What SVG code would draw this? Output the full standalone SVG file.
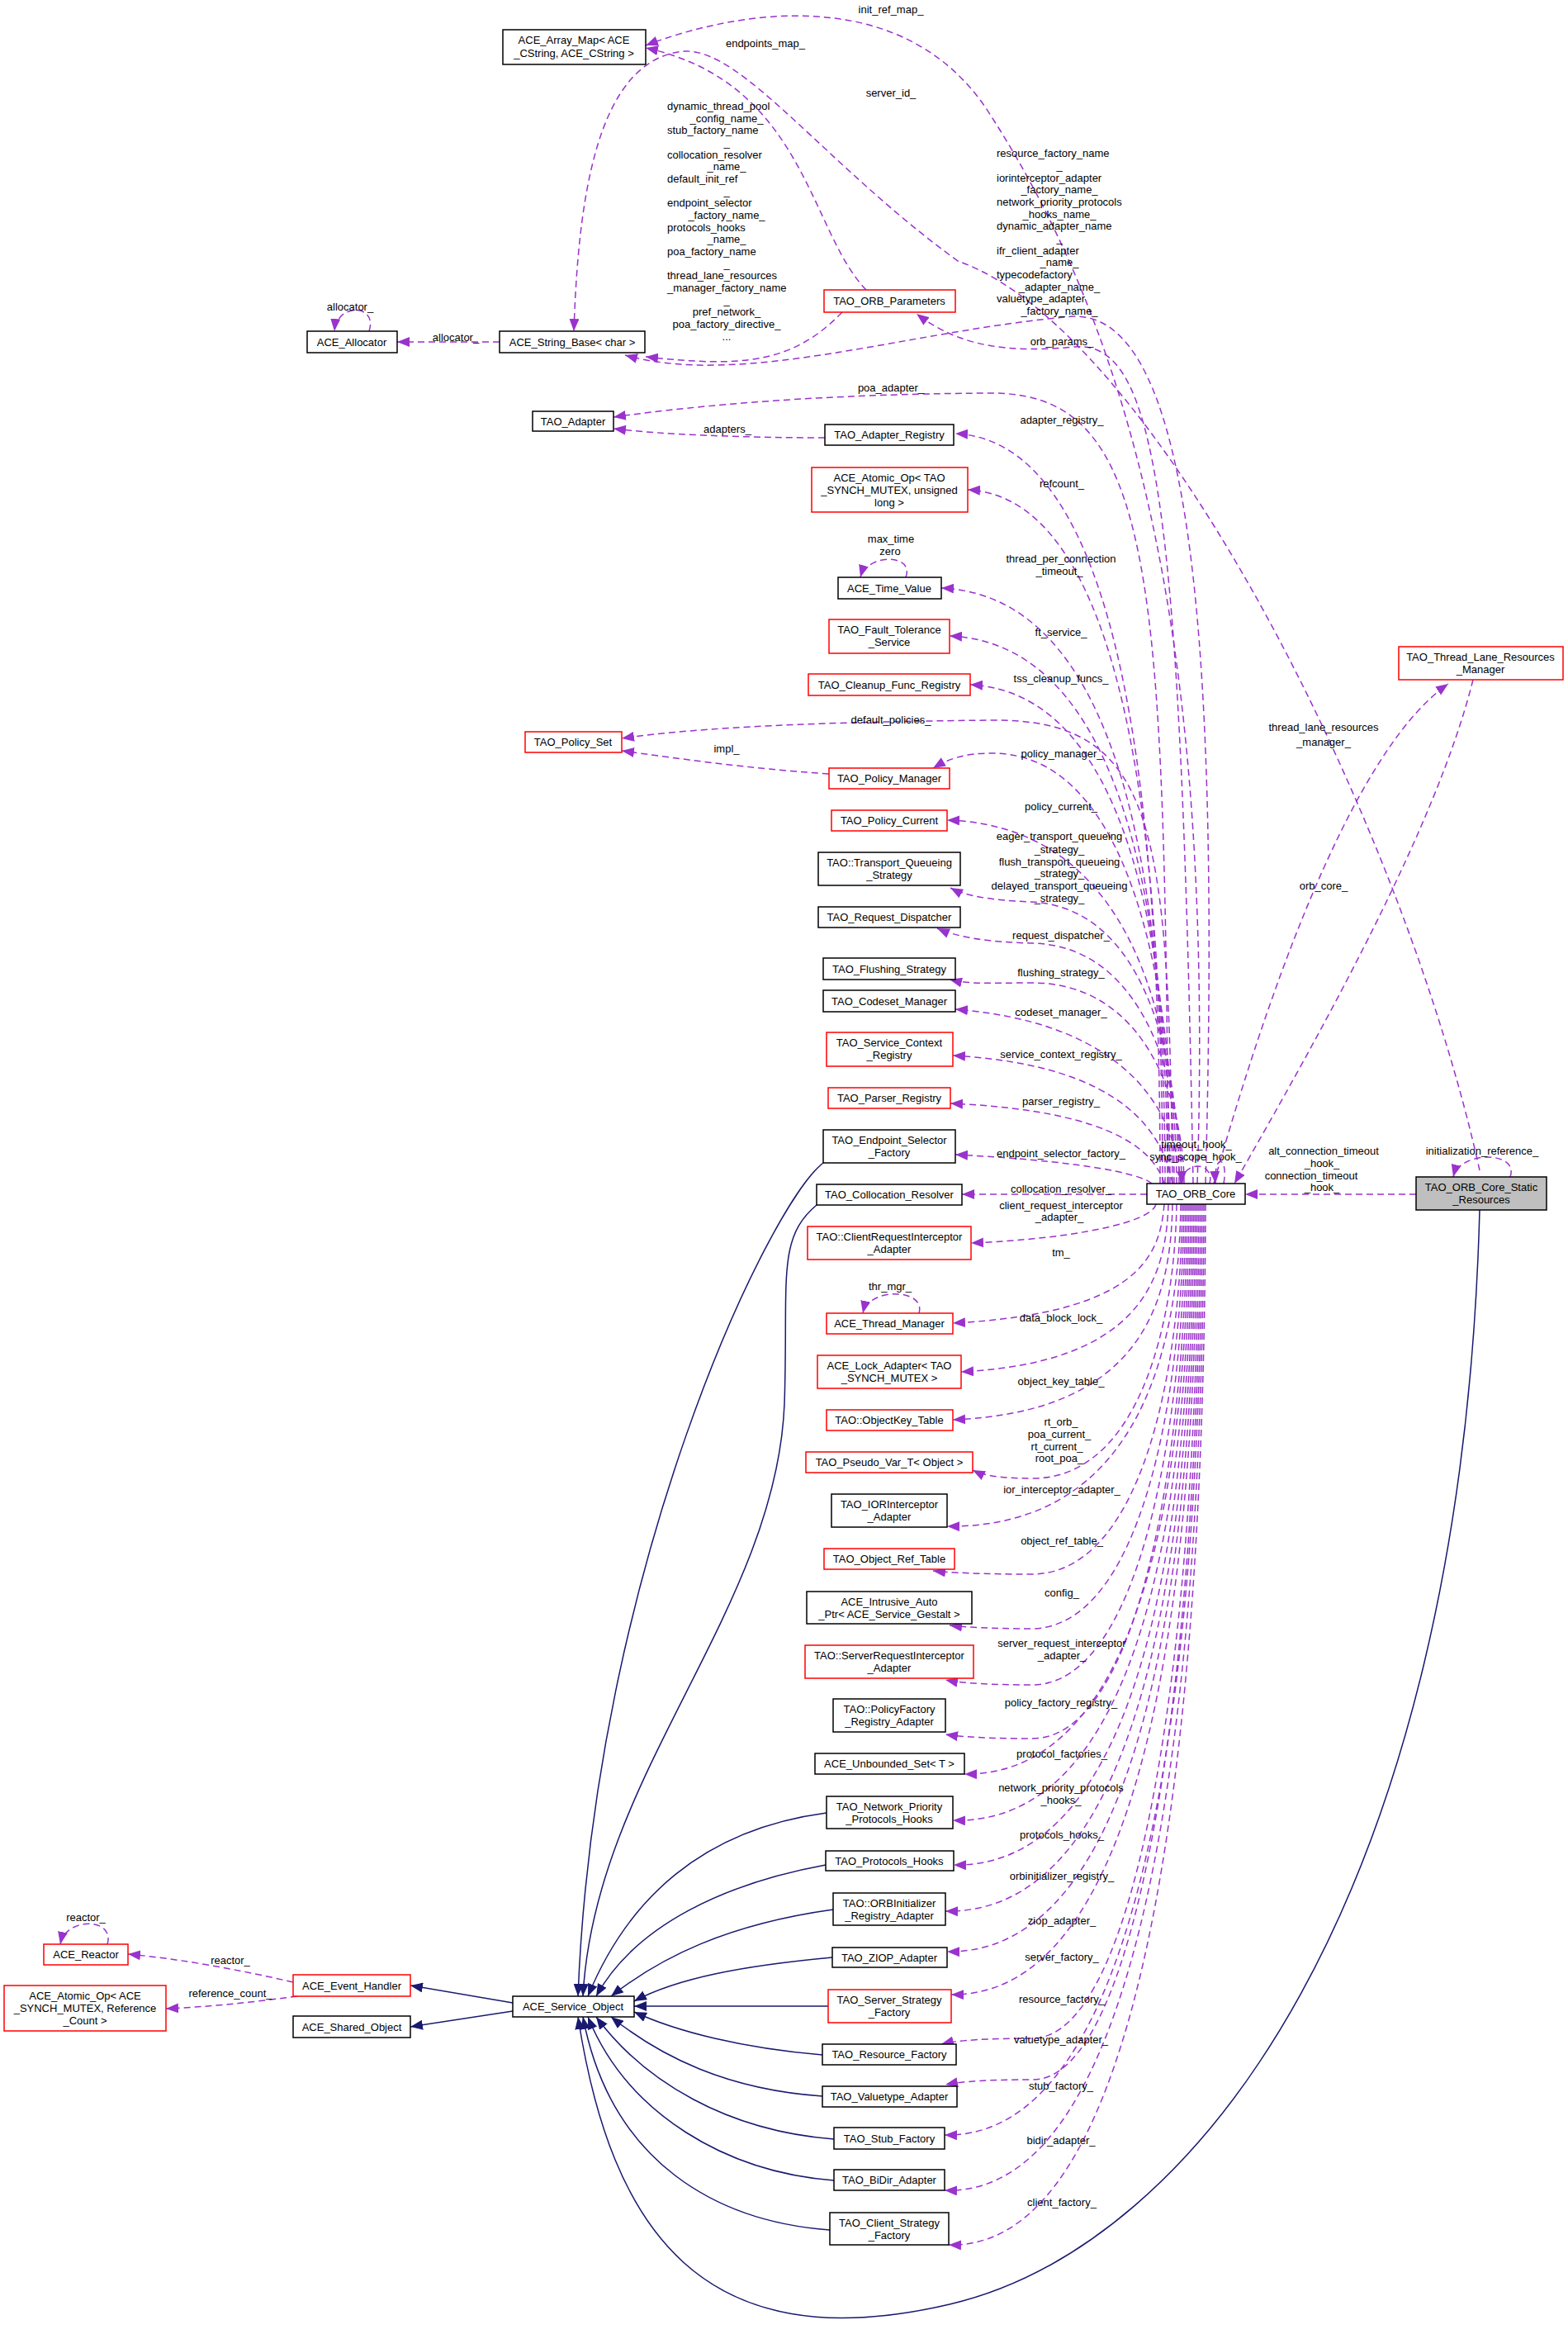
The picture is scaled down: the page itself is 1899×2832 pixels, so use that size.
<svg xmlns="http://www.w3.org/2000/svg" width="1899" height="2832" viewBox="0 0 1899 2832">
<style>
text{font-family:"Liberation Sans",Arial,sans-serif;font-size:13px;fill:#000;text-anchor:middle}
.l{text-anchor:start}
.n rect{fill:#fff;stroke:#000;stroke-width:1.5}
.n.r rect{stroke:#f00}
.n.g rect{fill:#bfbfbf}
.d{fill:none;stroke:#9a32cd;stroke-width:1.5;stroke-dasharray:8,5;marker-end:url(#pa)}
.i{fill:none;stroke:#191970;stroke-width:1.5;marker-end:url(#na)}
</style>
<defs>
<marker id="pa" markerUnits="userSpaceOnUse" markerWidth="16" markerHeight="12" refX="15" refY="6" orient="auto"><path d="M0,0 L15,6 L0,12 z" fill="#9a32cd"/></marker>
<marker id="na" markerUnits="userSpaceOnUse" markerWidth="16" markerHeight="12" refX="15" refY="6" orient="auto"><path d="M0,0 L15,6 L0,12 z" fill="#191970"/></marker>
</defs>
<rect width="1899" height="2832" fill="#fff"/>
<g id="connectors">
<path class="d" d="M1450,1433 C1470,800 1380,420 1200,140 C1100,-20 900,10 782,55"/>
<path class="d" d="M1049,351 C980,280 975,100 782,58"/>
<path class="d" d="M1792,1417 C1700,1000 1400,400 1160,316 C1000,200 900,60 830,62 C720,70 700,250 695,401"/>
<path class="d" d="M1020,378 C960,440 900,445 782,432"/>
<path class="d" d="M1460,1433 C1480,700 1430,380 1300,383 C1100,400 900,470 757,430"/>
<path class="d" d="M1445,1433 C1430,600 1400,410 1300,420 C1200,430 1150,410 1110,380"/>
<path class="d" d="M605,414 L481,414"/>
<path class="d" d="M447,401 C458,368 408,366 405,401"/>
<path class="d" d="M1415,1433 C1410,700 1400,475 1200,476 C1000,477 850,490 743,505"/>
<path class="d" d="M999,530 C900,530 800,526 743,519"/>
<path class="d" d="M1420,1433 C1415,1000 1400,870 1200,872 C1000,874 850,880 753,894"/>
<path class="d" d="M1004,937 C900,930 820,918 753,909"/>
<path class="d" d="M1097,699 C1108,670 1050,670 1042,699"/>
<path class="d" d="M1113,1590 C1122,1560 1052,1558 1045,1590"/>
<path class="d" d="M1405,1433 C1405,1070 1380,535 1157,525"/>
<path class="d" d="M1408,1433 C1408,1097 1380,603 1172,593"/>
<path class="d" d="M1411,1433 C1411,1145 1380,722 1140,712"/>
<path class="d" d="M1414,1433 C1414,1168 1380,780 1150,770"/>
<path class="d" d="M1417,1433 C1417,1191 1380,839 1175,829"/>
<path class="d" d="M1422,1433 C1422,1232 1380,910 1200,912 C1170,912 1150,918 1130,930"/>
<path class="d" d="M1425,1433 C1425,1257 1380,1000 1147,993"/>
<path class="d" d="M1428,1433 C1428,1290 1390,1100 1250,1092 C1200,1090 1170,1085 1151,1075"/>
<path class="d" d="M1431,1433 C1431,1320 1390,1145 1250,1142 C1200,1141 1160,1135 1135,1124"/>
<path class="d" d="M1434,1433 C1434,1340 1390,1190 1250,1190 C1200,1190 1175,1192 1150,1186"/>
<path class="d" d="M1430,1433 C1425,1360 1380,1240 1157,1222"/>
<path class="d" d="M1420,1433 C1410,1380 1370,1290 1154,1278"/>
<path class="d" d="M1410,1433 C1400,1400 1360,1345 1151,1336"/>
<path class="d" d="M1395,1433 C1380,1420 1300,1405 1157,1398"/>
<path class="d" d="M1389,1446 L1165,1446"/>
<path class="d" d="M1400,1458 C1395,1480 1300,1500 1176,1505"/>
<path class="d" d="M1410,1458 C1405,1520 1380,1590 1154,1602"/>
<path class="d" d="M1415,1458 C1412,1550 1380,1650 1164,1661"/>
<path class="d" d="M1420,1458 C1418,1580 1380,1710 1154,1719"/>
<path class="d" d="M1425,1458 C1423,1600 1380,1790 1250,1790 C1210,1790 1190,1786 1178,1780"/>
<path class="d" d="M1430,1458 C1428,1630 1380,1850 1147,1848"/>
<path class="d" d="M1432,1458 C1430,1670 1380,1905 1250,1906 C1190,1906 1150,1904 1130,1902"/>
<path class="d" d="M1434,1458 C1432,1700 1380,1970 1250,1972 C1200,1972 1170,1970 1150,1968"/>
<path class="d" d="M1436,1458 C1434,1730 1380,2040 1250,2040 C1200,2040 1165,2038 1145,2034"/>
<path class="d" d="M1438,1458 C1436,1760 1380,2105 1250,2105 C1200,2105 1165,2103 1145,2100"/>
<path class="d" d="M1440,1458 C1438,1800 1380,2150 1168,2148"/>
<path class="d" d="M1442,1458 C1440,1830 1380,2210 1154,2204"/>
<path class="d" d="M1444,1458 C1442,1860 1380,2262 1155,2258"/>
<path class="d" d="M1446,1458 C1444,1890 1380,2318 1145,2314"/>
<path class="d" d="M1448,1458 C1446,1920 1380,2366 1147,2363"/>
<path class="d" d="M1450,1458 C1448,1950 1380,2417 1152,2415"/>
<path class="d" d="M1452,1458 C1450,1990 1380,2468 1250,2468 C1200,2468 1160,2470 1140,2475"/>
<path class="d" d="M1454,1458 C1452,2020 1380,2520 1250,2518 C1200,2518 1165,2520 1145,2524"/>
<path class="d" d="M1456,1458 C1454,2060 1380,2590 1144,2585"/>
<path class="d" d="M1458,1458 C1456,2100 1380,2660 1144,2652"/>
<path class="d" d="M1460,1458 C1458,2150 1380,2725 1149,2718"/>
<path class="d" d="M1470,1433 C1550,1150 1650,900 1754,828"/>
<path class="d" d="M1784,823 C1740,1000 1600,1250 1495,1433"/>
<path class="d" d="M1715,1446 L1508,1446"/>
<path class="d" d="M1829,1425 C1840,1393 1768,1393 1760,1425"/>
<path class="d" d="M1465,1433 C1472,1405 1430,1405 1432,1433"/>
<path class="d" d="M1482,1433 C1488,1400 1470,1395 1472,1433"/>
<path class="d" d="M130,2354 C140,2322 80,2320 73,2354"/>
<path class="d" d="M355,2400 C290,2385 220,2372 155,2366"/>
<path class="d" d="M360,2417 C300,2425 250,2430 201,2432"/>
<path class="i" d="M621,2425 L497,2404"/>
<path class="i" d="M621,2435 L497,2454"/>
<path class="i" d="M997,1408 C930,1460 720,1900 700,2417"/>
<path class="i" d="M989,1459 C940,1500 955,1550 950,1700 C940,1950 720,2150 706,2417"/>
<path class="i" d="M1001,2195 C850,2215 760,2300 712,2417"/>
<path class="i" d="M1000,2258 C880,2280 770,2330 722,2417"/>
<path class="i" d="M1009,2312 C880,2330 800,2370 740,2417"/>
<path class="i" d="M1008,2370 C900,2380 820,2395 768,2423"/>
<path class="i" d="M1003,2429 L768,2429"/>
<path class="i" d="M996,2488 C900,2480 820,2460 768,2436"/>
<path class="i" d="M996,2538 C880,2530 800,2490 740,2442"/>
<path class="i" d="M1010,2590 C880,2580 780,2520 722,2442"/>
<path class="i" d="M1010,2640 C880,2630 760,2560 712,2442"/>
<path class="i" d="M1005,2700 C870,2690 740,2620 706,2442"/>
<path class="i" d="M1792,1465 C1770,2300 1450,2720 1150,2790 C850,2860 740,2700 700,2442"/>
</g>
<g id="labels">
<text x="1079" y="16">init_ref_map_</text>
<text x="927" y="57">endpoints_map_</text>
<text x="1079" y="117">server_id_</text>
<text class="l" x="808" y="133">dynamic_thread_pool</text>
<text x="880" y="148">_config_name_</text>
<text class="l" x="808" y="162">stub_factory_name</text>
<text x="880" y="177">_</text>
<text class="l" x="808" y="192">collocation_resolver</text>
<text x="880" y="206">_name_</text>
<text class="l" x="808" y="221">default_init_ref</text>
<text x="880" y="236">_</text>
<text class="l" x="808" y="250">endpoint_selector</text>
<text x="880" y="265">_factory_name_</text>
<text class="l" x="808" y="280">protocols_hooks</text>
<text x="880" y="294">_name_</text>
<text class="l" x="808" y="309">poa_factory_name</text>
<text x="880" y="324">_</text>
<text class="l" x="808" y="338">thread_lane_resources</text>
<text class="l" x="808" y="353">_manager_factory_name</text>
<text x="880" y="368">_</text>
<text x="880" y="382">pref_network_</text>
<text x="880" y="397">poa_factory_directive_</text>
<text x="880" y="412">...</text>
<text class="l" x="1207" y="190">resource_factory_name</text>
<text x="1283" y="205">_</text>
<text class="l" x="1207" y="220">iorinterceptor_adapter</text>
<text x="1283" y="234">_factory_name_</text>
<text class="l" x="1207" y="249">network_priority_protocols</text>
<text x="1283" y="264">_hooks_name_</text>
<text class="l" x="1207" y="278">dynamic_adapter_name</text>
<text x="1283" y="293">_</text>
<text class="l" x="1207" y="308">ifr_client_adapter</text>
<text x="1283" y="322">_name_</text>
<text class="l" x="1207" y="337">typecodefactory</text>
<text x="1283" y="352">_adapter_name_</text>
<text class="l" x="1207" y="366">valuetype_adapter</text>
<text x="1283" y="381">_factory_name_</text>
<text x="1286" y="418">orb_params_</text>
<text x="424" y="376">allocator_</text>
<text x="552" y="413">allocator_</text>
<text x="1079" y="474">poa_adapter_</text>
<text x="881" y="524">adapters_</text>
<text x="1286" y="513">adapter_registry_</text>
<text x="1286" y="590">refcount_</text>
<text x="1079" y="657">max_time</text>
<text x="1078" y="672">zero</text>
<text x="1285" y="681">thread_per_connection</text>
<text x="1283" y="696">_timeout_</text>
<text x="1285" y="770">ft_service_</text>
<text x="1285" y="826">tss_cleanup_funcs_</text>
<text x="1079" y="876">default_policies_</text>
<text x="880" y="911">impl_</text>
<text x="1286" y="917">policy_manager_</text>
<text x="1285" y="981">policy_current_</text>
<text x="1283" y="1017">eager_transport_queueing</text>
<text x="1283" y="1033">_strategy_</text>
<text x="1283" y="1048">flush_transport_queueing</text>
<text x="1283" y="1062">_strategy_</text>
<text x="1283" y="1077">delayed_transport_queueing</text>
<text x="1283" y="1092">_strategy_</text>
<text x="1285" y="1137">request_dispatcher_</text>
<text x="1285" y="1182">flushing_strategy_</text>
<text x="1285" y="1230">codeset_manager_</text>
<text x="1285" y="1281">service_context_registry_</text>
<text x="1285" y="1338">parser_registry_</text>
<text x="1285" y="1401">endpoint_selector_factory_</text>
<text x="1285" y="1444">collocation_resolver_</text>
<text x="1285" y="1464">client_request_interceptor</text>
<text x="1283" y="1478">_adapter_</text>
<text x="1285" y="1521">tm_</text>
<text x="1078" y="1562">thr_mgr_</text>
<text x="1285" y="1600">data_block_lock_</text>
<text x="1285" y="1677">object_key_table_</text>
<text x="1285" y="1726">rt_orb_</text>
<text x="1283" y="1741">poa_current_</text>
<text x="1280" y="1756">rt_current_</text>
<text x="1283" y="1770">root_poa_</text>
<text x="1449" y="1390">timeout_hook_</text>
<text x="1448" y="1405">sync_scope_hook_</text>
<text x="1603" y="1398">alt_connection_timeout</text>
<text x="1601" y="1413">_hook_</text>
<text x="1588" y="1428">connection_timeout</text>
<text x="1601" y="1442">_hook_</text>
<text x="1795" y="1398">initialization_reference_</text>
<text x="1603" y="885">thread_lane_resources</text>
<text x="1603" y="903">_manager_</text>
<text x="1603" y="1077">orb_core_</text>
<text x="1286" y="1808">ior_interceptor_adapter_</text>
<text x="1286" y="1870">object_ref_table_</text>
<text x="1286" y="1933">config_</text>
<text x="1286" y="1994">server_request_interceptor</text>
<text x="1286" y="2009">_adapter_</text>
<text x="1285" y="2066">policy_factory_registry_</text>
<text x="1286" y="2128">protocol_factories_</text>
<text x="1285" y="2169">network_priority_protocols</text>
<text x="1285" y="2184">_hooks_</text>
<text x="1286" y="2226">protocols_hooks_</text>
<text x="1286" y="2276">orbinitializer_registry_</text>
<text x="1286" y="2330">ziop_adapter_</text>
<text x="1286" y="2374">server_factory_</text>
<text x="1286" y="2425">resource_factory_</text>
<text x="1285" y="2474">valuetype_adapter_</text>
<text x="1285" y="2530">stub_factory_</text>
<text x="1285" y="2596">bidir_adapter_</text>
<text x="1286" y="2671">client_factory_</text>
<text x="104" y="2326">reactor_</text>
<text x="279" y="2378">reactor_</text>
<text x="279" y="2418">reference_count_</text>
</g>
<g id="n1" class="n"><rect x="609" y="36" width="173" height="42"/><text x="695" y="53">ACE_Array_Map&lt; ACE</text><text x="695" y="69">_CString, ACE_CString &gt;</text></g>
<g id="n2" class="n"><rect x="372" y="401" width="109" height="26"/><text x="426" y="419">ACE_Allocator</text></g>
<g id="n3" class="n"><rect x="605" y="401" width="176" height="26"/><text x="693" y="419">ACE_String_Base&lt; char &gt;</text></g>
<g id="n4" class="n r"><rect x="998" y="351" width="159" height="27"/><text x="1077" y="369">TAO_ORB_Parameters</text></g>
<g id="n5" class="n"><rect x="645" y="498" width="98" height="24"/><text x="694" y="515">TAO_Adapter</text></g>
<g id="n6" class="n"><rect x="999" y="514" width="156" height="25"/><text x="1077" y="531">TAO_Adapter_Registry</text></g>
<g id="n7" class="n r"><rect x="983" y="566" width="189" height="54"/><text x="1077" y="583">ACE_Atomic_Op&lt; TAO</text><text x="1077" y="598">_SYNCH_MUTEX, unsigned</text><text x="1077" y="613">long &gt;</text></g>
<g id="n8" class="n"><rect x="1015" y="699" width="125" height="26"/><text x="1077" y="717">ACE_Time_Value</text></g>
<g id="n9" class="n r"><rect x="1004" y="750" width="146" height="41"/><text x="1077" y="767">TAO_Fault_Tolerance</text><text x="1077" y="782">_Service</text></g>
<g id="n10" class="n r"><rect x="979" y="816" width="196" height="26"/><text x="1077" y="834">TAO_Cleanup_Func_Registry</text></g>
<g id="n11" class="n r"><rect x="636" y="886" width="117" height="25"/><text x="694" y="903">TAO_Policy_Set</text></g>
<g id="n12" class="n r"><rect x="1004" y="930" width="146" height="25"/><text x="1077" y="947">TAO_Policy_Manager</text></g>
<g id="n13" class="n r"><rect x="1007" y="981" width="140" height="25"/><text x="1077" y="998">TAO_Policy_Current</text></g>
<g id="n14" class="n"><rect x="991" y="1032" width="172" height="40"/><text x="1077" y="1049">TAO::Transport_Queueing</text><text x="1077" y="1064">_Strategy</text></g>
<g id="n15" class="n"><rect x="991" y="1098" width="172" height="25"/><text x="1077" y="1115">TAO_Request_Dispatcher</text></g>
<g id="n16" class="n"><rect x="997" y="1160" width="160" height="26"/><text x="1077" y="1178">TAO_Flushing_Strategy</text></g>
<g id="n17" class="n"><rect x="997" y="1199" width="160" height="26"/><text x="1077" y="1217">TAO_Codeset_Manager</text></g>
<g id="n18" class="n r"><rect x="1001" y="1250" width="153" height="41"/><text x="1077" y="1267">TAO_Service_Context</text><text x="1077" y="1282">_Registry</text></g>
<g id="n19" class="n r"><rect x="1003" y="1317" width="148" height="25"/><text x="1077" y="1334">TAO_Parser_Registry</text></g>
<g id="n20" class="n"><rect x="997" y="1368" width="160" height="40"/><text x="1077" y="1385">TAO_Endpoint_Selector</text><text x="1077" y="1400">_Factory</text></g>
<g id="n21" class="n"><rect x="989" y="1434" width="176" height="25"/><text x="1077" y="1451">TAO_Collocation_Resolver</text></g>
<g id="n22" class="n"><rect x="1389" y="1433" width="119" height="25"/><text x="1448" y="1450">TAO_ORB_Core</text></g>
<g id="n23" class="n g"><rect x="1715" y="1425" width="158" height="40"/><text x="1794" y="1442">TAO_ORB_Core_Static</text><text x="1794" y="1457">_Resources</text></g>
<g id="n24" class="n r"><rect x="1694" y="783" width="199" height="40"/><text x="1793" y="800">TAO_Thread_Lane_Resources</text><text x="1793" y="815">_Manager</text></g>
<g id="n25" class="n r"><rect x="978" y="1485" width="198" height="40"/><text x="1077" y="1502">TAO::ClientRequestInterceptor</text><text x="1077" y="1517">_Adapter</text></g>
<g id="n26" class="n r"><rect x="1001" y="1590" width="153" height="25"/><text x="1077" y="1607">ACE_Thread_Manager</text></g>
<g id="n27" class="n r"><rect x="990" y="1641" width="174" height="40"/><text x="1077" y="1658">ACE_Lock_Adapter&lt; TAO</text><text x="1077" y="1673">_SYNCH_MUTEX &gt;</text></g>
<g id="n28" class="n r"><rect x="1001" y="1707" width="153" height="25"/><text x="1077" y="1724">TAO::ObjectKey_Table</text></g>
<g id="n29" class="n r"><rect x="976" y="1758" width="202" height="25"/><text x="1077" y="1775">TAO_Pseudo_Var_T&lt; Object &gt;</text></g>
<g id="n30" class="n"><rect x="1007" y="1809" width="140" height="40"/><text x="1077" y="1826">TAO_IORInterceptor</text><text x="1077" y="1841">_Adapter</text></g>
<g id="n31" class="n r"><rect x="998" y="1875" width="158" height="25"/><text x="1077" y="1892">TAO_Object_Ref_Table</text></g>
<g id="n32" class="n"><rect x="977" y="1927" width="200" height="39"/><text x="1077" y="1944">ACE_Intrusive_Auto</text><text x="1077" y="1959">_Ptr&lt; ACE_Service_Gestalt &gt;</text></g>
<g id="n33" class="n r"><rect x="975" y="1992" width="204" height="40"/><text x="1077" y="2009">TAO::ServerRequestInterceptor</text><text x="1077" y="2024">_Adapter</text></g>
<g id="n34" class="n"><rect x="1009" y="2057" width="136" height="40"/><text x="1077" y="2074">TAO::PolicyFactory</text><text x="1077" y="2089">_Registry_Adapter</text></g>
<g id="n35" class="n"><rect x="987" y="2123" width="181" height="25"/><text x="1077" y="2140">ACE_Unbounded_Set&lt; T &gt;</text></g>
<g id="n36" class="n"><rect x="1001" y="2175" width="153" height="39"/><text x="1077" y="2192">TAO_Network_Priority</text><text x="1077" y="2207">_Protocols_Hooks</text></g>
<g id="n37" class="n"><rect x="1000" y="2241" width="155" height="24"/><text x="1077" y="2258">TAO_Protocols_Hooks</text></g>
<g id="n38" class="n"><rect x="1009" y="2292" width="136" height="39"/><text x="1077" y="2309">TAO::ORBInitializer</text><text x="1077" y="2324">_Registry_Adapter</text></g>
<g id="n39" class="n"><rect x="1008" y="2358" width="139" height="24"/><text x="1077" y="2375">TAO_ZIOP_Adapter</text></g>
<g id="n40" class="n r"><rect x="1003" y="2409" width="149" height="40"/><text x="1077" y="2426">TAO_Server_Strategy</text><text x="1077" y="2441">_Factory</text></g>
<g id="n41" class="n"><rect x="996" y="2475" width="162" height="25"/><text x="1077" y="2492">TAO_Resource_Factory</text></g>
<g id="n42" class="n"><rect x="996" y="2526" width="163" height="25"/><text x="1077" y="2543">TAO_Valuetype_Adapter</text></g>
<g id="n43" class="n"><rect x="1010" y="2576" width="134" height="26"/><text x="1077" y="2594">TAO_Stub_Factory</text></g>
<g id="n44" class="n"><rect x="1010" y="2627" width="134" height="25"/><text x="1077" y="2644">TAO_BiDir_Adapter</text></g>
<g id="n45" class="n"><rect x="1005" y="2679" width="144" height="39"/><text x="1077" y="2696">TAO_Client_Strategy</text><text x="1077" y="2711">_Factory</text></g>
<g id="n46" class="n r"><rect x="53" y="2354" width="102" height="25"/><text x="104" y="2371">ACE_Reactor</text></g>
<g id="n47" class="n r"><rect x="355" y="2391" width="142" height="26"/><text x="426" y="2409">ACE_Event_Handler</text></g>
<g id="n48" class="n r"><rect x="5" y="2404" width="196" height="55"/><text x="103" y="2421">ACE_Atomic_Op&lt; ACE</text><text x="103" y="2436">_SYNCH_MUTEX, Reference</text><text x="103" y="2451">_Count &gt;</text></g>
<g id="n49" class="n"><rect x="355" y="2441" width="142" height="26"/><text x="426" y="2459">ACE_Shared_Object</text></g>
<g id="n50" class="n"><rect x="621" y="2417" width="147" height="25"/><text x="694" y="2434">ACE_Service_Object</text></g>
</svg>
